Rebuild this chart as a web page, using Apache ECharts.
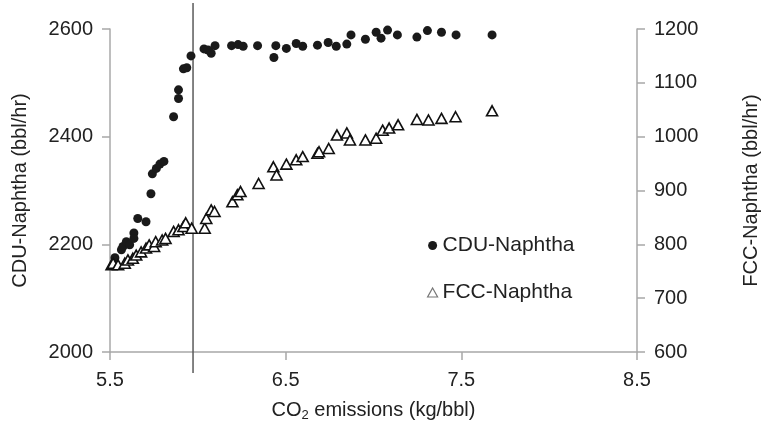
<!DOCTYPE html>
<html>
<head>
<meta charset="utf-8">
<script src="https://cdn.jsdelivr.net/npm/echarts@6/dist/echarts.min.js"></script>
<style>html,body{margin:0;padding:0;background:#fff}#c{width:769px;height:432px}</style>
</head>
<body>
<div id="c"></div>
<script>
// CO2 emissions (kg/bbl) vs CDU-Naphtha (bbl/hr)
const cduX = [5.528,5.565,5.574,5.593,5.612,5.636,5.636,5.658,5.705,5.733,5.741,5.764,5.784,5.807,5.862,5.890,5.890,5.918,5.937,5.961,6.035,6.058,6.076,6.098,6.192,6.229,6.258,6.340,6.433,6.444,6.504,6.560,6.597,6.681,6.742,6.788,6.848,6.872,6.954,7.015,7.043,7.080,7.136,7.247,7.307,7.387,7.470,7.675];
const cduY = [2175,2190,2196,2205,2199,2221,2211,2248,2242,2294,2331,2341,2349,2354,2437,2471,2487,2526,2528,2550,2563,2561,2555,2569,2569,2571,2568,2569,2547,2569,2564,2573,2568,2570,2575,2568,2572,2589,2581,2594,2583,2598,2589,2585,2597,2594,2589,2589];
// CO2 emissions (kg/bbl) vs FCC-Naphtha (bbl/hr)
const fccX = [5.509,5.518,5.546,5.584,5.602,5.630,5.649,5.677,5.705,5.723,5.751,5.760,5.797,5.816,5.862,5.890,5.918,5.931,5.965,6.039,6.048,6.076,6.095,6.197,6.225,6.243,6.346,6.430,6.448,6.504,6.560,6.597,6.681,6.690,6.745,6.792,6.848,6.866,6.954,7.015,7.052,7.089,7.140,7.247,7.313,7.387,7.467,7.675];
const fccY = [762,765,762,765,771,774,780,786,793,799,796,805,808,811,824,827,833,840,830,830,848,864,861,879,892,898,913,944,929,949,957,963,969,972,978,1003,1007,994,994,997,1012,1016,1022,1032,1031,1034,1037,1048];
const xTicks = [5.5,6.5,7.5,8.5];
const yLeftTicks = [2000,2200,2400,2600];
const yRightTicks = [600,700,800,900,1000,1100,1200];
const vLineX = [5.963];

const FONT = 'Liberation Sans, Arial, Helvetica, sans-serif';
const TXT = '#222';
const AX = '#a8a8a8';

const chart = echarts.init(document.getElementById('c'), null, {renderer:'canvas'});
const axisCommon = {
  axisLine:{show:true,lineStyle:{color:AX,width:1.5}},
  axisTick:{show:true,length:8,lineStyle:{color:AX,width:1.5}},
  splitLine:{show:false},
  axisLabel:{color:TXT,fontSize:20,fontFamily:FONT,margin:17,formatter:v=>String(v)},
  nameTextStyle:{color:TXT,fontSize:20,fontFamily:FONT}
};
chart.setOption({
  animation:false,
  backgroundColor:'#fff',
  grid:[
    {left:110,right:121,top:29,bottom:80},
    {left:110,right:121,top:3,bottom:59}
  ],
  xAxis:[
    Object.assign({}, axisCommon, {
      type:'value', gridIndex:0, min:xTicks[0], max:xTicks[xTicks.length-1],
      axisLabel:Object.assign({}, axisCommon.axisLabel, {customValues:xTicks, margin:18, formatter:v=>v.toFixed(1)}),
      axisTick:Object.assign({}, axisCommon.axisTick, {customValues:xTicks}),
      name:'{a|CO}{s|2}{a| emissions (kg/bbl)}', nameLocation:'middle', nameGap:47,
      nameTextStyle:{color:TXT,fontSize:20,fontFamily:FONT,
        rich:{a:{fontSize:20,fontFamily:FONT,color:TXT},s:{fontSize:13,fontFamily:FONT,color:TXT,padding:[10,0,0,0]}}}
    }),
    {type:'value', gridIndex:1, min:xTicks[0], max:xTicks[xTicks.length-1], show:false}
  ],
  yAxis:[
    Object.assign({}, axisCommon, {
      type:'value', gridIndex:0, position:'left', min:yLeftTicks[0], max:yLeftTicks[yLeftTicks.length-1], interval:200,
      name:'CDU-Naphtha (bbl/hr)', nameLocation:'middle', nameGap:80
    }),
    Object.assign({}, axisCommon, {
      type:'value', gridIndex:0, position:'right', min:yRightTicks[0], max:yRightTicks[yRightTicks.length-1], interval:100,
      name:'FCC-Naphtha (bbl/hr)', nameLocation:'middle', nameGap:104, nameRotate:90
    }),
    {type:'value', gridIndex:1, min:0, max:1, show:false}
  ],
  legend:{
    orient:'vertical', left:422, top:230, itemGap:26, itemWidth:10, itemHeight:9,
    textStyle:{color:TXT,fontSize:21,fontFamily:FONT,lineHeight:20},
    data:[
      {name:'CDU-Naphtha', icon:'circle', itemStyle:{color:'#1a1a1a'}},
      {name:'FCC-Naphtha', icon:'triangle', itemStyle:{color:'#fff',borderColor:'#777',borderWidth:1.2}}
    ]
  },
  series:[
    {
      name:'vline', type:'line', xAxisIndex:1, yAxisIndex:2, z:1, silent:true,
      symbol:'none', lineStyle:{color:'#5a5a5a',width:1.5},
      data:[[vLineX[0],0],[vLineX[0],1]]
    },
    {
      name:'CDU-Naphtha', type:'scatter', xAxisIndex:0, yAxisIndex:0, z:3,
      symbol:'circle', symbolSize:9,
      itemStyle:{color:'#1a1a1a',opacity:1},
      data:cduX.map((x,i)=>[x,cduY[i]])
    },
    {
      name:'FCC-Naphtha', type:'scatter', xAxisIndex:0, yAxisIndex:1, z:4,
      symbol:'triangle', symbolSize:[11,10],
      itemStyle:{color:'#fff',borderColor:'#111',borderWidth:1.6,opacity:1},
      data:fccX.map((x,i)=>[x,fccY[i]])
    }
  ]
});
</script>
</body>
</html>
